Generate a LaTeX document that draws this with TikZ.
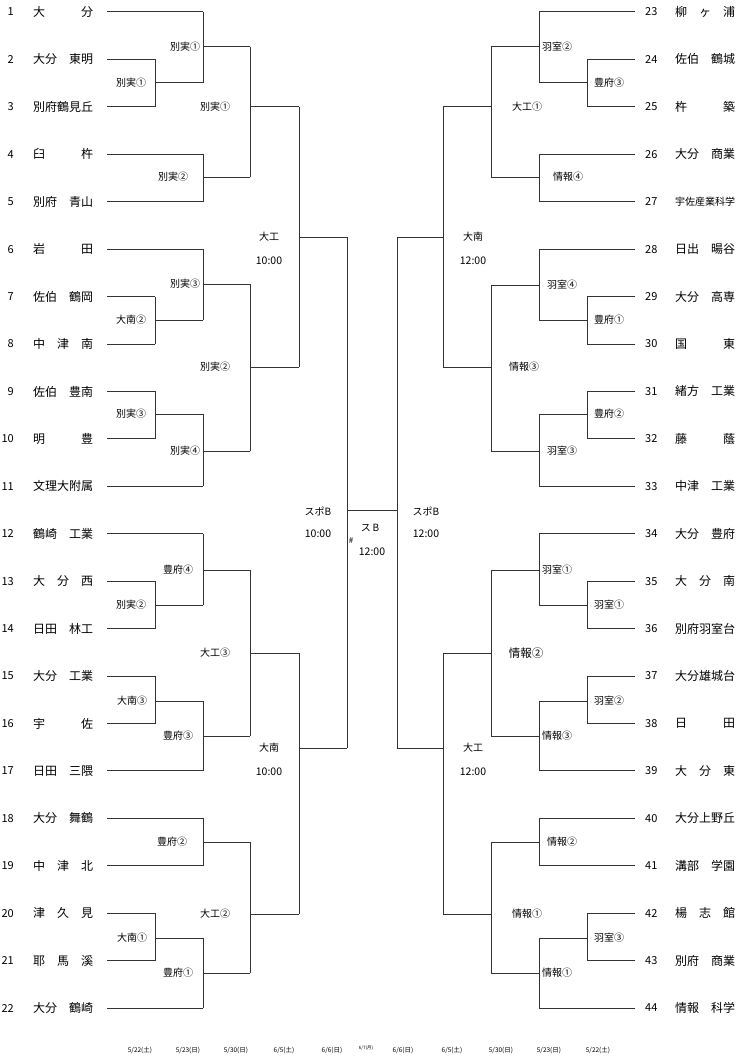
\documentclass[tikz,border=0pt]{standalone}
\usepackage{fontspec}
\setmainfont{Noto Sans CJK JP}
\tikzset{
  bline/.style={line width=1pt, black!80},
  team/.style={anchor=west, inner sep=0pt, font=\fontsize{12}{14}\selectfont},
  seed/.style={inner sep=0pt, font=\fontsize{11}{13}\selectfont},
  site/.style={inner sep=0pt, font=\fontsize{10}{12}\selectfont},
  clock/.style={inner sep=0pt, font=\fontsize{10.5}{12}\selectfont},
  day/.style={inner sep=0pt, font=\fontsize{6.5}{8}\selectfont},
}
\begin{document}
\begin{tikzpicture}[x=1pt, y=-1pt]
\useasboundingbox (0,0) rectangle (743,1062);
% Left block: number, school and line to the first joint
\foreach \i/\name/\xe in {1/大　　　分/203, 2/大分　東明/155, 3/別府鶴見丘/155,
  4/臼　　　杵/203, 5/別府　青山/203, 6/岩　　　田/203, 7/佐伯　鶴岡/155,
  8/中　津　南/155, 9/佐伯　豊南/155, 10/明　　　豊/155, 11/文理大附属/203,
  12/鶴崎　工業/203, 13/大　分　西/155, 14/日田　林工/155, 15/大分　工業/155,
  16/宇　　　佐/155, 17/日田　三隈/203, 18/大分　舞鶴/203, 19/中　津　北/203,
  20/津　久　見/155, 21/耶　馬　溪/155, 22/大分　鶴崎/203}{
  \pgfmathsetmacro\ty{12+(\i-1)*47.43}
  \node[seed, anchor=east] (num\i) at (14,\ty) {\i};
  \node[team] (team\i) at (33,\ty) {\name};
  \draw[bline] (107,\ty) -- (\xe,\ty);
}
% Right block: number, school and line to the first joint
\foreach \i/\name/\xs in {23/柳　ヶ　浦/539, 24/佐伯　鶴城/587, 25/杵　　　築/587,
  26/大分　商業/539, 27/{\fontsize{10}{12}\selectfont 宇佐産業科学}/539, 28/日出　暘谷/539,
  29/大分　高専/587, 30/国　　　東/587, 31/緒方　工業/587, 32/藤　　　蔭/587,
  33/中津　工業/539, 34/大分　豊府/539, 35/大　分　南/587, 36/別府羽室台/587,
  37/大分雄城台/587, 38/日　　　田/587, 39/大　分　東/539, 40/大分上野丘/539,
  41/溝部　学園/539, 42/楊　志　館/587, 43/別府　商業/587, 44/情報　科学/539}{
  \pgfmathsetmacro\ty{12+(\i-23)*47.43}
  \node[seed, anchor=west] (num\i) at (645,\ty) {\i};
  \node[team] (team\i) at (675,\ty) {\name};
  \draw[bline] (\xs,\ty) -- (635,\ty);
}
% Left joints: x, top, bottom, out y, next x, venue, label x
\foreach \x/\ya/\yb/\yo/\xn/\lab/\lx [count=\k] in {
  155/59.4/106.9/83/203/別実①/131, 203/12/83/47/250/別実①/185,
  203/154.3/201.7/177/250/別実②/173, 250/47/177/107/299/別実①/215,
  155/296.6/344/320/203/大南②/131, 203/249.2/320/284/250/別実③/185,
  155/391.4/438.9/414/203/別実③/131, 203/414/486.3/451/250/別実④/185,
  250/284/451/367/299/別実②/215, 155/581.2/628.6/605/203/別実②/131,
  203/533.7/605/570/250/豊府④/178, 155/676/723.5/701/203/大南③/132,
  203/701/770.9/736/250/豊府③/178, 250/570/736/653/299/大工③/215,
  203/818.3/865.7/842/250/豊府②/172, 155/913.2/960.6/938/203/大南①/132,
  203/938/1008/973/250/豊府①/178, 250/842/973/914/299/大工②/215}{
  \draw[bline] (\x,\ya) -- (\x,\yb);
  \draw[bline] (\x,\yo) -- (\xn,\yo);
  \node[site] (lw\k) at (\lx,\yo) {\lab};
}
% Right joints: x, top, bottom, out y, next x, venue, label x
\foreach \x/\ya/\yb/\yo/\xn/\lab/\lx [count=\k] in {
  587/59.4/106.9/83/539/豊府③/609, 539/12/83/47/491/羽室②/557,
  539/154.3/201.7/177/491/情報④/568, 491/47/177/107/443/大工①/527,
  587/296.6/344/320/539/豊府①/609, 539/249.2/320/285/491/羽室④/562,
  587/391.4/438.9/414/539/豊府②/609, 539/414/486.3/451/491/羽室③/562,
  491/285/451/367/443/情報③/524, 587/581.2/628.6/605/539/羽室①/609,
  539/533.7/605/570/491/羽室①/557, 587/676/723.5/701/539/羽室②/609,
  539/701/770.9/736/491/情報③/557, 491/570/736/653/443/{\fontsize{11.5}{13}\selectfont 情報②}/526,
  539/818.3/865.7/842/491/情報②/562, 587/913.2/960.6/938/539/羽室③/609,
  539/938/1008/973/491/情報①/557, 491/842/973/914/443/情報①/527}{
  \draw[bline] (\x,\ya) -- (\x,\yb);
  \draw[bline] (\x,\yo) -- (\xn,\yo);
  \node[site] (rw\k) at (\lx,\yo) {\lab};
}
% Semifinals, left
\draw[bline] (299,107) -- (299,367);
\draw[bline] (299,237) -- (347,237);
\node[site] (semiLa) at (269,237) {大工};
\node[clock] (timeLa) at (269,261) {10:00};
\draw[bline] (299,653) -- (299,914);
\draw[bline] (299,748) -- (347,748);
\node[site] (semiLb) at (269,748) {大南};
\node[clock] (timeLb) at (269,772) {10:00};
% Semifinals, right
\draw[bline] (443,107) -- (443,367);
\draw[bline] (443,237) -- (397,237);
\node[site] (semiRa) at (473,237) {大南};
\node[clock] (timeRa) at (473,261) {12:00};
\draw[bline] (443,653) -- (443,914);
\draw[bline] (443,748) -- (397,748);
\node[site] (semiRb) at (473,748) {大工};
\node[clock] (timeRb) at (473,772) {12:00};
% Finals and the final
\draw[bline] (347,237) -- (347,748);
\draw[bline] (397,237) -- (397,748);
\draw[bline] (347,510) -- (397,510);
\node[site] (finL) at (318,511) {スポB};
\node[clock] (finLt) at (318,534) {10:00};
\node[site] (finR) at (426,511) {スポB};
\node[clock] (finRt) at (426,534) {12:00};
\node[site] (champ) at (370,528) {ス\,B};
\node[inner sep=0pt, font=\fontsize{8}{9}\selectfont] (hash) at (351,541) {\#};
\node[clock] (champt) at (372,552) {12:00};
% Dates along the bottom
\node[day] (d1) at (140,1050) {5/22(土)};
\node[day] (d2) at (188,1050) {5/23(日)};
\node[day] (d3) at (236,1050) {5/30(日)};
\node[day] (d4) at (284,1050) {6/5(土)};
\node[day] (d5) at (332,1050) {6/6(日)};
\node[inner sep=0pt, font=\fontsize{4.5}{5}\selectfont] (d6) at (366,1048) {6/7(月)};
\node[day] (d7) at (403,1050) {6/6(日)};
\node[day] (d8) at (452,1050) {6/5(土)};
\node[day] (d9) at (501,1050) {5/30(日)};
\node[day] (d10) at (549,1050) {5/23(日)};
\node[day] (d11) at (598,1050) {5/22(土)};
\end{tikzpicture}
\end{document}
